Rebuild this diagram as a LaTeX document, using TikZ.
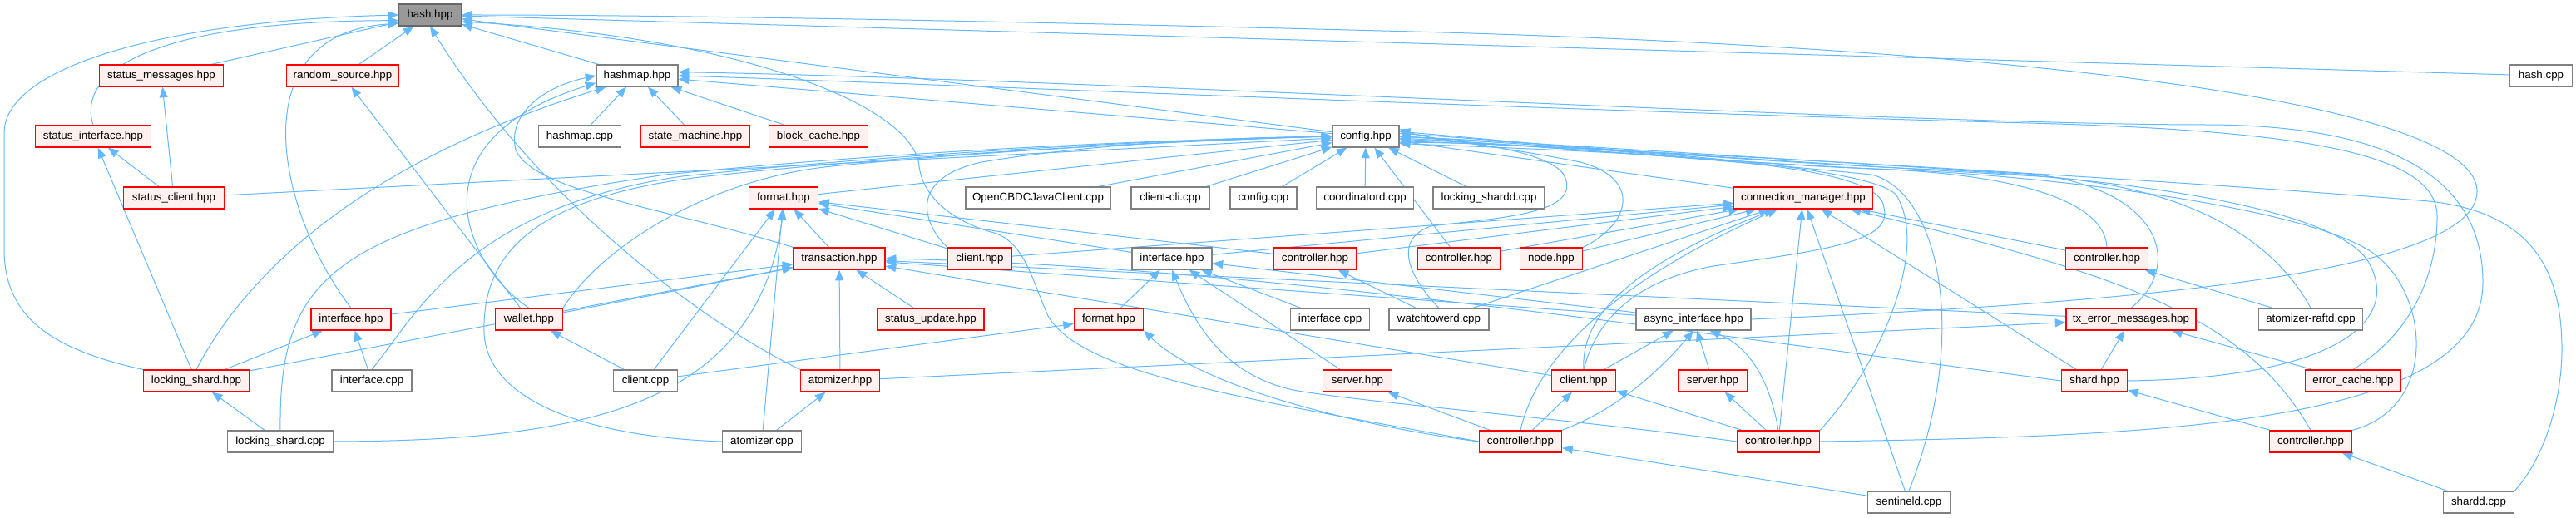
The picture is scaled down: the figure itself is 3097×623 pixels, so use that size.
\documentclass[tikz,border=0pt]{standalone}
\usepackage{fontspec}
\setmainfont{Liberation Sans}
\usetikzlibrary{arrows.meta,backgrounds}
\definecolor{edgeblue}{HTML}{63B8FF}
\definecolor{redfill}{HTML}{FFF0F0}
\definecolor{gborder}{HTML}{808080}
\definecolor{hborder}{HTML}{666666}
\definecolor{gfill}{HTML}{999999}
\definecolor{rborder}{HTML}{FF0000}
\begin{document}
\begin{tikzpicture}[x=0.75pt,y=-0.75pt,
  box/.style={draw, line width=0.9pt, minimum height=19.5pt, inner xsep=2pt, inner ysep=0pt, font=\fontsize{10}{12}\selectfont},
  rn/.style={box, draw=rborder, fill=redfill, minimum width=#1},
  gn/.style={box, draw=gborder, fill=white, minimum width=#1},
  hn/.style={box, draw=hborder, fill=gfill, minimum width=#1},
  lnk/.style={draw=edgeblue, line width=0.75pt, -{Triangle[length=9.5pt,width=7.5pt]}}
]
\useasboundingbox (0,0) rectangle (3097,623);

% row 0
\node[hn=56.25pt] (H) at (517,18) {hash.hpp};
% row 1
\node[rn=111.75pt] (smsg) at (194,91) {status\_messages.hpp};
\node[rn=101.25pt] (rsrc) at (412,91) {random\_source.hpp};
\node[gn=73.5pt] (hmap) at (766,91) {hashmap.hpp};
\node[gn=56.25pt] (hcpp) at (3055,91) {hash.cpp};
% row 2
\node[rn=104.25pt] (sint) at (112,164) {status\_interface.hpp};
\node[gn=74.25pt] (hmcpp) at (697,164) {hashmap.cpp};
\node[rn=98.25pt] (smach) at (836,164) {state\_machine.hpp};
\node[rn=89.25pt] (bcache) at (984,164) {block\_cache.hpp};
\node[gn=60pt] (cfg) at (1642,164) {config.hpp};
% row 3
\node[rn=90.75pt] (scli) at (209,238) {status\_client.hpp};
\node[rn=62.25pt] (fmt1) at (942,238) {format.hpp};
\node[gn=130.5pt] (ojc) at (1248,238) {OpenCBDCJavaClient.cpp};
\node[gn=70.5pt] (ccli) at (1407,238) {client-cli.cpp};
\node[gn=60pt] (cfgcpp) at (1519,238) {config.cpp};
\node[gn=87.75pt] (coord) at (1641,238) {coordinatord.cpp};
\node[gn=100.5pt] (lsd) at (1790,238) {locking\_shardd.cpp};
\node[rn=125.25pt] (cm) at (2168,238) {connection\_manager.hpp};
% row 4
\node[rn=82.5pt] (tx) at (1009,311) {transaction.hpp};
\node[rn=57.75pt] (cli4) at (1178,311) {client.hpp};
\node[gn=72pt] (ifg) at (1409,311) {interface.hpp};
\node[rn=74.25pt] (c4a) at (1581,311) {controller.hpp};
\node[rn=74.25pt] (c4b) at (1754,311) {controller.hpp};
\node[rn=56.25pt] (ndh) at (1865,311) {node.hpp};
\node[rn=74.25pt] (c4c) at (2533,311) {controller.hpp};
% row 5
\node[rn=72pt] (ifr) at (422,384) {interface.hpp};
\node[rn=60.75pt] (wal) at (636,384) {wallet.hpp};
\node[rn=96pt] (supd) at (1119,384) {status\_update.hpp};
\node[rn=62.25pt] (fmt2) at (1333,384) {format.hpp};
\node[gn=71.5pt] (icpp2) at (1599,384) {interface.cpp};
\node[gn=90pt] (wtd) at (1730,384) {watchtowerd.cpp};
\node[gn=103.5pt] (async) at (2036,384) {async\_interface.hpp};
\node[rn=117pt] (txerr) at (2562,384) {tx\_error\_messages.hpp};
\node[gn=93.75pt] (araftd) at (2778,384) {atomizer-raftd.cpp};
% row 6
\node[rn=95.25pt] (lsh) at (236,458) {locking\_shard.hpp};
\node[gn=72pt] (icpp) at (447,458) {interface.cpp};
\node[gn=57.75pt] (ccpp) at (776,458) {client.cpp};
\node[rn=71.25pt] (atom) at (1010,458) {atomizer.hpp};
\node[rn=62.25pt] (srv1) at (1632,458) {server.hpp};
\node[rn=57.75pt] (cli6) at (1904,458) {client.hpp};
\node[rn=62.25pt] (srv2) at (2059,458) {server.hpp};
\node[rn=59.25pt] (shard) at (2518,458) {shard.hpp};
\node[rn=86.25pt] (ecache) at (2829,458) {error\_cache.hpp};
% row 7
\node[gn=95.25pt] (lscpp) at (337,531) {locking\_shard.cpp};
\node[gn=71.25pt] (acpp) at (916,531) {atomizer.cpp};
\node[rn=74.25pt] (c7a) at (1828,531) {controller.hpp};
\node[rn=74.25pt] (c7b) at (2138,531) {controller.hpp};
\node[rn=74.25pt] (c7c) at (2778,531) {controller.hpp};
% row 8
\node[gn=74.25pt] (sent) at (2295,604) {sentineld.cpp};
\node[gn=63.75pt] (shardd) at (2980,604) {shardd.cpp};

\begin{scope}[on background layer]
\fill[white] (0,0) rectangle (3097,623);
\foreach \a/\b in {smsg/H, rsrc/H, hmap/H, hcpp/H, cfg/H,
  hmcpp/hmap, smach/hmap, bcache/hmap, cfg/hmap,
  scli/smsg, scli/sint, scli/cfg, lsh/sint, wal/rsrc,
  fmt1/cfg, ojc/cfg, ccli/cfg, cfgcpp/cfg, coord/cfg, lsd/cfg, cm/cfg, c4b/cfg,
  tx/fmt1, cli4/fmt1, acpp/fmt1, ccpp/fmt1, ifg/fmt1, c4a/fmt1,
  cli4/cm, ifg/cm, c4a/cm, c4b/cm, ndh/cm, wtd/cm, c7b/cm, sent/cm, shard/cm, c4c/cm,
  ifr/tx, wal/tx, lsh/tx, supd/tx, atom/tx, txerr/tx, async/tx, cli6/tx,
  lsh/ifr, icpp/ifr, ccpp/wal, lscpp/lsh, acpp/atom,
  fmt2/ifg, srv1/ifg, icpp2/ifg, async/ifg,
  ccpp/fmt2, wtd/c4a, araftd/c4c,
  cli6/async, srv2/async,
  c7a/cli6, c7b/cli6, c7a/srv1, c7b/srv2, sent/c7a, shardd/c7c, c7c/shard,
  shard/txerr, ecache/txerr, atom/txerr}
  \draw[lnk] (\a) -- (\b);

% into hash.hpp
\draw[lnk] (lsh.north west) .. controls (60,420) and (5,380) .. (5,300) -- (5,160) .. controls (5,80) and (200,25) .. (H.west);
\draw[lnk] (sint.north) .. controls (90,80) and (200,25) .. (H.190);
\draw[lnk] (ifr.north) .. controls (330,250) and (290,40) .. (H.195);
\draw[lnk] (atom.north west) .. controls (830,380) and (640,230) .. (H.south);
\draw[lnk] (c7a.west) .. controls (1500,480) and (1300,450) .. (1260,380) .. controls (1240,335) and (1232,292) .. (1195,280) .. controls (1150,268) and (1110,240) .. (1105,200) .. controls (1100,130) and (900,45) .. (H.-12);
\draw[lnk] (async.east) .. controls (2550,365) and (2978,330) .. (2978,230) .. controls (2978,130) and (2500,60) .. (1700,38) .. controls (1200,25) and (800,18) .. (H.east);

% into hashmap.hpp
\draw[lnk] (lsh.north) .. controls (290,340) and (420,200) .. (hmap.200);
\draw[lnk] (wal.north) .. controls (560,320) and (490,170) .. (hmap.190);
\draw[lnk] (tx.north west) .. controls (800,250) and (640,230) .. (620,180) .. controls (610,140) and (650,105) .. (hmap.west);
\draw[lnk] (ecache.north) .. controls (2900,400) and (2930,330) .. (2930,260) .. controls (2930,180) and (2750,155) .. (2400,147) .. controls (1800,130) and (1100,100) .. (hmap.east);
\draw[lnk] (c7b.east) .. controls (2600,525) and (2985,510) .. (2985,340) .. controls (2985,200) and (2850,150) .. (2650,150) .. controls (2300,150) and (1300,95) .. (hmap.5);

% into config.hpp
\draw[lnk] (lscpp.north) .. controls (335,330) and (400,270) .. (800,210) .. controls (1100,180) and (1400,168) .. (cfg.west);
\draw[lnk] (icpp.north) .. controls (500,380) and (560,250) .. (820,212) .. controls (1100,183) and (1400,168) .. (cfg.west);
\draw[lnk] (acpp.west) .. controls (700,525) and (585,480) .. (582,400) .. controls (579,300) and (650,235) .. (850,212) .. controls (1100,185) and (1400,170) .. (cfg.west);
\draw[lnk] (wal.north east) .. controls (720,300) and (850,215) .. (1000,200) .. controls (1200,180) and (1450,168) .. (cfg.west);
\draw[lnk] (cli4.north west) .. controls (1110,270) and (1090,215) .. (1180,195) .. controls (1300,175) and (1450,166) .. (cfg.west);
\draw[lnk] (wtd.north) .. controls (1700,340) and (1670,290) .. (1720,272) .. controls (1800,262) and (1905,258) .. (1880,210) .. controls (1860,180) and (1750,168) .. (cfg.east);
\draw[lnk] (ndh.north east) .. controls (1960,270) and (1975,215) .. (1900,195) .. controls (1800,175) and (1720,168) .. (cfg.12);
\draw[lnk] (txerr.north) .. controls (2625,320) and (2600,230) .. (2450,210) .. controls (2200,195) and (1850,172) .. (cfg.east);
\draw[lnk] (c4c.north) .. controls (2530,235) and (2400,208) .. (2250,203) .. controls (2050,195) and (1850,172) .. (cfg.8);
\draw[lnk] (shard.east) .. controls (2800,455) and (2885,390) .. (2850,320) .. controls (2820,250) and (2550,215) .. (2350,205) .. controls (2100,195) and (1850,172) .. (cfg.5);
\draw[lnk] (araftd.north) .. controls (2740,300) and (2650,225) .. (2450,212) .. controls (2200,198) and (1850,174) .. (cfg.east);
\draw[lnk] (c7c.north east) .. controls (2930,490) and (2920,360) .. (2860,310) .. controls (2800,255) and (2500,215) .. (2300,205) .. controls (2050,195) and (1850,174) .. (cfg.-5);
\draw[lnk] (shardd.north east) .. controls (3060,550) and (3080,480) .. (3080,420) .. controls (3080,320) and (3040,255) .. (2920,242) .. controls (2600,215) and (1900,176) .. (cfg.-8);
\draw[lnk] (sent.north) .. controls (2370,400) and (2330,230) .. (2250,210) .. controls (2050,190) and (1800,172) .. (cfg.-3);
\draw[lnk] (c7b.north east) .. controls (2260,440) and (2320,300) .. (2280,235) .. controls (2250,195) and (1850,172) .. (cfg.-10);
\draw[lnk] (cli6.north) .. controls (1915,400) and (1950,340) .. (2060,320) .. controls (2200,300) and (2275,290) .. (2265,250) .. controls (2262,195) and (2000,185) .. (cfg.-12);

% into connection_manager.hpp
\draw[lnk] (c7a.north) .. controls (1850,420) and (1960,330) .. (cm);
\draw[lnk] (c7c.north) .. controls (2700,380) and (2550,330) .. (cm);
\draw[lnk] (cli6.north) .. controls (1900,380) and (1960,320) .. (cm);

% others
\draw[lnk] (lscpp.east) .. controls (700,530) and (910,490) .. (fmt1.south);
\draw[lnk] (c7b.west) .. controls (1900,505) and (1650,485) .. (1560,470) .. controls (1480,455) and (1440,400) .. (ifg.south);
\draw[lnk] (c7a.west) .. controls (1650,515) and (1450,470) .. (fmt2.south east);
\draw[lnk] (c7a.north east) .. controls (1950,490) and (2000,440) .. (async.south);
\draw[lnk] (c7b.north) .. controls (2130,470) and (2110,420) .. (async.325);
\draw[lnk] (shard.west) .. controls (2000,395) and (1500,320) .. (tx.east);
\end{scope}
\end{tikzpicture}
\end{document}
